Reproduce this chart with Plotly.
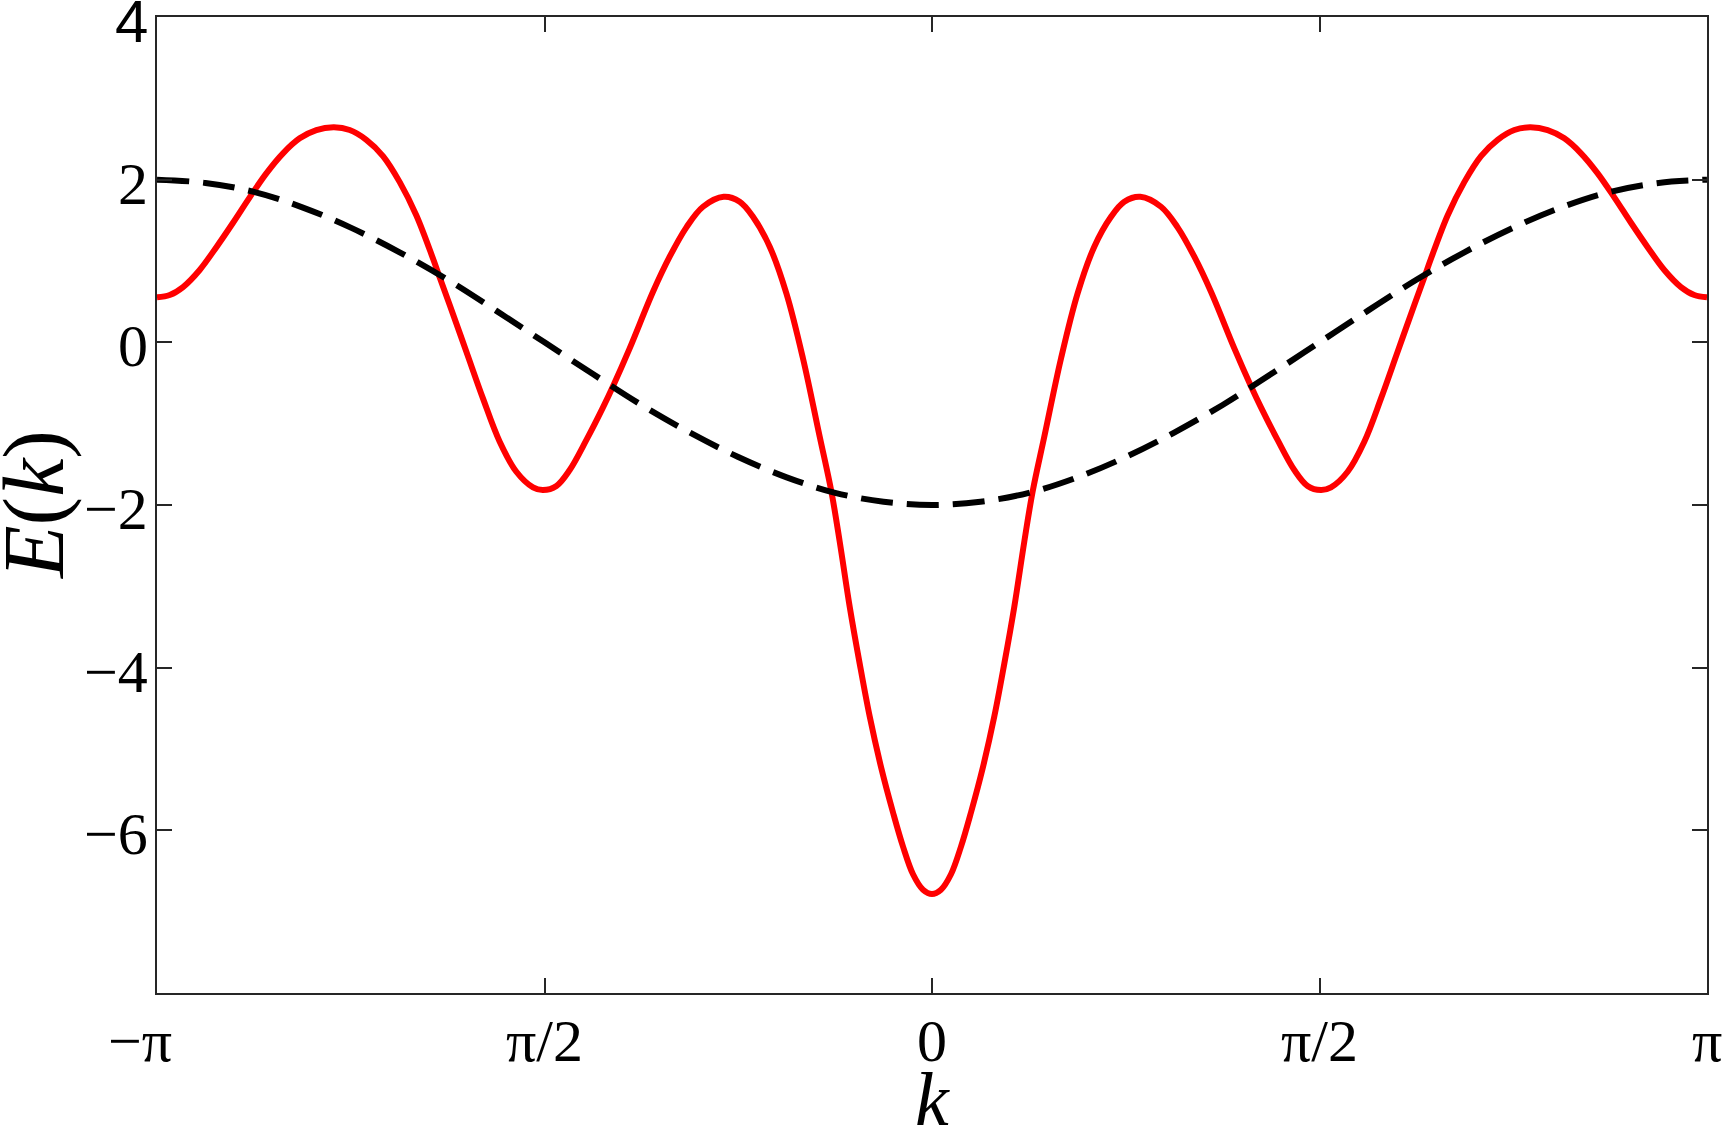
import plotly.graph_objects as go

# k is given in units of pi (k / pi)
red_k = [-1.0, -0.9836, -0.9664, -0.9449, -0.9234, -0.9019, -0.8804, -0.8589, -0.8374,
         -0.8159, -0.7944, -0.7716, -0.7514, -0.7299, -0.7084, -0.6868, -0.6653, -0.6439,
         -0.6353, -0.6223, -0.6008, -0.5794, -0.5578, -0.5363, -0.5148, -0.5019, -0.4846,
         -0.4675, -0.4459, -0.4245, -0.4116, -0.3901, -0.36, -0.3385, -0.3169, -0.2955,
         -0.2688, -0.2481, -0.231, -0.2094, -0.1879, -0.1665, -0.1449, -0.1298, -0.1191,
         -0.1062, -0.0933, -0.0804, -0.0653, -0.0503, -0.0374, -0.0245, -0.0116, 0.0,
         0.0116, 0.0245, 0.0374, 0.0503, 0.0653, 0.0804, 0.0933, 0.1062, 0.1191,
         0.1298, 0.1449, 0.1665, 0.1879, 0.2094, 0.231, 0.2481, 0.2688,
         0.2955, 0.3169, 0.3385, 0.36, 0.3901, 0.4116, 0.4245, 0.4459, 0.4675,
         0.4846, 0.5019, 0.5148, 0.5363, 0.5578, 0.5794, 0.6008, 0.6223, 0.6353,
         0.6439, 0.6653, 0.6868, 0.7084, 0.7299, 0.7514, 0.7716, 0.7944, 0.8159,
         0.8374, 0.8589, 0.8804, 0.9019, 0.9234, 0.9449, 0.9664, 0.9836, 1.0]
red_E = [0.553, 0.582, 0.68, 0.89, 1.17, 1.47, 1.783, 2.078, 2.324,
         2.508, 2.61, 2.643, 2.61, 2.49, 2.29, 1.97, 1.56, 1.03,
         0.8, 0.459, -0.115, -0.689, -1.222, -1.591, -1.783, -1.816, -1.765,
         -1.57, -1.2, -0.8, -0.54, -0.074, 0.622, 1.053, 1.414, 1.667,
         1.79, 1.729, 1.544, 1.176, 0.602, -0.197, -1.16, -1.837, -2.45,
         -3.25, -3.95, -4.6, -5.24, -5.78, -6.2, -6.54, -6.73, -6.783,
         -6.73, -6.54, -6.2, -5.78, -5.24, -4.6, -3.95, -3.25, -2.45,
         -1.837, -1.16, -0.197, 0.602, 1.176, 1.544, 1.729, 1.79,
         1.667, 1.414, 1.053, 0.622, -0.074, -0.54, -0.8, -1.2, -1.57,
         -1.765, -1.816, -1.783, -1.591, -1.222, -0.689, -0.115, 0.459, 0.8,
         1.03, 1.56, 1.97, 2.29, 2.49, 2.61, 2.643, 2.61, 2.508,
         2.324, 2.078, 1.783, 1.47, 1.17, 0.89, 0.68, 0.582, 0.553]

black_k = [-1.0, -0.9375, -0.875, -0.8125, -0.75, -0.6875, -0.625, -0.5625, -0.5,
           -0.4375, -0.375, -0.3125, -0.25, -0.1875, -0.125, -0.0625, 0.0,
           0.0625, 0.125, 0.1875, 0.25, 0.3125, 0.375, 0.4375, 0.5,
           0.5625, 0.625, 0.6875, 0.75, 0.8125, 0.875, 0.9375, 1.0]
black_E = [2.0, 1.96, 1.85, 1.66, 1.41, 1.11, 0.77, 0.39, 0.0,
           -0.39, -0.77, -1.11, -1.41, -1.66, -1.85, -1.96, -2.0,
           -1.96, -1.85, -1.66, -1.41, -1.11, -0.77, -0.39, 0.0,
           0.39, 0.77, 1.11, 1.41, 1.66, 1.85, 1.96, 2.0]

x_tickvals = [-1, -0.5, 0, 0.5, 1]
x_ticktext = ["−π", "π/2", "0", "π/2", "π"]
y_tickvals = [-6, -4, -2, 0, 2, 4]
y_ticktext = ["−6", "−4", "−2", "0", "2", "4"]

SERIF = "Liberation Serif"
SANS = "Liberation Sans"
AXIS = "#262626"

fig = go.Figure()
fig.add_trace(go.Scatter(x=red_k, y=red_E, mode="lines",
                         line=dict(color="#ff0000", width=6, shape="spline", smoothing=1),
                         showlegend=False))
fig.add_trace(go.Scatter(x=black_k, y=black_E, mode="lines",
                         line=dict(color="#000000", width=6, shape="spline", smoothing=1,
                                   dash="32px,14px"),
                         showlegend=False))

axis_common = dict(showline=True, linecolor=AXIS, linewidth=1.5, mirror="ticks",
                   ticks="inside", ticklen=15, tickwidth=1.5, tickcolor=AXIS,
                   showgrid=False, zeroline=False, showticklabels=False)

fig.update_xaxes(range=[-1, 1], tickvals=x_tickvals, **axis_common)
fig.update_yaxes(range=[-8, 4], tickvals=y_tickvals, **axis_common)

# tick labels sit closer to the frame than plotly's own labels allow, so use annotations
for xv, txt in zip(x_tickvals, x_ticktext):
    fig.add_annotation(x=xv, y=0, xref="x", yref="paper", text=txt, showarrow=False,
                       xanchor="center", yanchor="middle", yshift=-48,
                       xshift=-17 if txt.startswith("−") else 0,
                       font=dict(family=SERIF, size=60, color="black"))

for yv, txt in zip(y_tickvals, y_ticktext):
    fig.add_annotation(x=0, y=yv, xref="paper", yref="y", text=txt, showarrow=False,
                       xanchor="right", yanchor="middle", xshift=-7, yshift=-4,
                       font=dict(family=SANS if yv == 4 else SERIF, size=60, color="black"))

# axis titles
fig.add_annotation(x=0, y=0, xref="x", yref="paper", text="<i>k</i>", showarrow=False,
                   xanchor="center", yanchor="middle", yshift=-106,
                   font=dict(family=SERIF, size=76, color="black"))
fig.add_annotation(x=0, y=0.5, xref="paper", yref="paper", text="<i>E</i>(<i>k</i>)",
                   showarrow=False, textangle=-90, xanchor="center", yanchor="middle",
                   xshift=-123, font=dict(family=SERIF, size=86, color="black"))

fig.update_layout(width=1723, height=1127, plot_bgcolor="white", paper_bgcolor="white",
                  margin=dict(l=157, r=16, t=17, b=134, autoexpand=False))

fig.write_html("out.html", config={"displayModeBar": False},
               post_script="document.body.style.margin='0px';")
